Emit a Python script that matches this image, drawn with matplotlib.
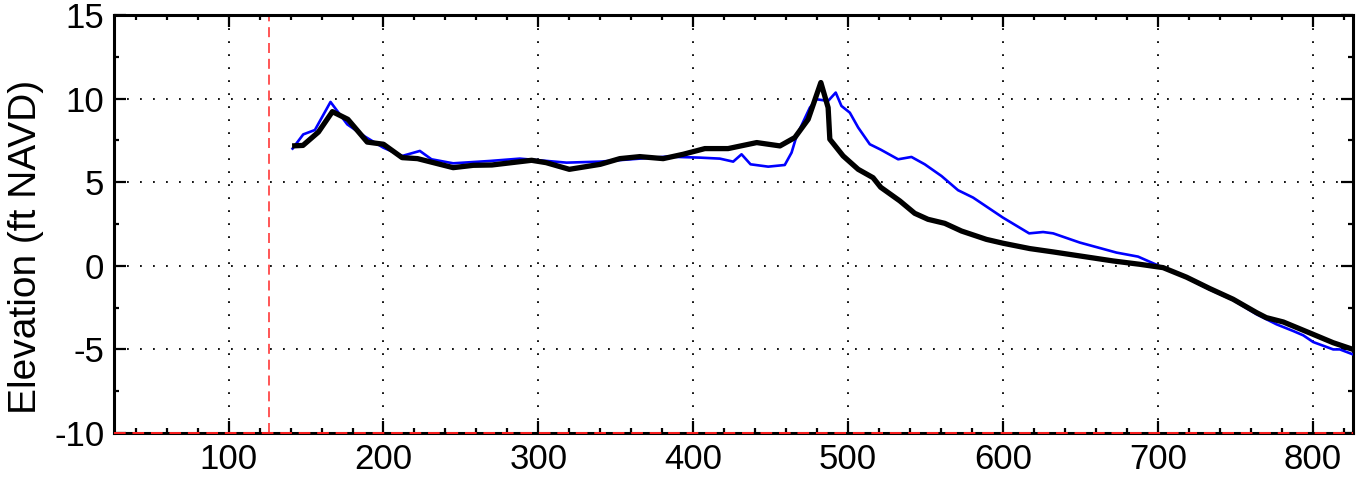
"""
Beach profile comparison plot
"""

import matplotlib
matplotlib.use("Agg")
import matplotlib.pyplot as plt
from matplotlib.ticker import MultipleLocator

plt.rcParams["axes.unicode_minus"] = False

# profile 1 (thin blue)
blue_x = [141.3, 148.2, 155.7, 165.8, 176.6, 188, 199.8, 212.1, 223.5, 231, 245,
          268.7, 288, 318.2, 339.7, 382.8, 404.3, 417.2, 425.8, 431.2, 437, 448.4,
          459.1, 463.5, 466.7, 475.3, 479.6, 487.1, 492, 495.7, 501.1, 506.5, 514,
          521, 532.3, 540.9, 549.5, 560.3, 571, 580.7, 600, 616.9, 625.9, 632.4,
          649.6, 673.3, 687.2, 703.4, 718.5, 733.5, 748.6, 763.7, 776.6, 787.4,
          793.9, 800.3, 813.2, 817.5, 826]
blue_z = [7.01, 7.86, 8.12, 9.8, 8.46, 7.73, 7.07, 6.57, 6.87, 6.37, 6.13,
          6.27, 6.41, 6.17, 6.23, 6.53, 6.47, 6.41, 6.23, 6.67, 6.07, 5.93,
          6.03, 6.77, 7.76, 9.46, 9.96, 9.86, 10.36, 9.56, 9.16, 8.27, 7.27,
          6.95, 6.37, 6.51, 6.07, 5.37, 4.52, 4.08, 2.88, 1.94, 2.02, 1.94,
          1.39, 0.79, 0.55, -0.11, -0.72, -1.42, -2.05, -2.9, -3.5, -3.9,
          -4.16, -4.56, -5.0, -5.0, -5.3]

# profile 2 (thick black)
black_x = [141, 148, 158, 167, 177, 189.5, 200, 212, 222, 245, 258, 270, 295.6,
           305, 320, 340, 352.6, 365.5, 380.6, 393.5, 407.5, 422.5, 441, 456,
           465.6, 474.2, 482.4, 487.1, 488.2, 496.8, 506.5, 516.1, 521, 533.4,
           543, 551.6, 562.4, 573.2, 589.3, 600, 617.3, 632.4, 649.6, 671.1,
           688.3, 703.4, 718.5, 733.5, 748.6, 763.7, 770, 781, 800.3, 813.2, 826]
black_z = [7.17, 7.2, 8.0, 9.22, 8.76, 7.4, 7.27, 6.47, 6.41, 5.87, 6.01, 6.03, 6.31,
           6.17, 5.77, 6.07, 6.41, 6.53, 6.41, 6.67, 7.01, 7.01, 7.37, 7.17,
           7.67, 8.76, 10.96, 9.46, 7.57, 6.57, 5.77, 5.27, 4.7, 3.88,
           3.14, 2.78, 2.54, 2.08, 1.58, 1.35, 1.03, 0.83, 0.59, 0.29,
           0.09, -0.11, -0.68, -1.36, -2.0, -2.8, -3.1, -3.36, -4.1, -4.6, -5.0]

ref_x = 126      # red dashed vertical marker
ref_z = -10      # red dashed horizontal marker
XLIM = (26, 826)
YLIM = (-10, 15)

fig = plt.figure(figsize=(13.64, 4.84), dpi=100)
ax = fig.add_axes([114 / 1364, 51 / 484, 1239 / 1364, 418 / 484])

ax.plot(blue_x, blue_z, color="#0000ff", lw=1.9, zorder=3)
ax.plot(black_x, black_z, color="black", lw=3.8, zorder=4,
        solid_joinstyle="round", solid_capstyle="butt")
ax.axvline(ref_x, color="#ff3838", lw=1.2, ls=(0, (6, 3.5)), zorder=2)
ax.axhline(ref_z, color="#ff2020", lw=1.4, ls=(0, (6, 3.5)), zorder=6, clip_on=False)

ax.set_xlim(*XLIM)
ax.set_ylim(*YLIM)
ax.xaxis.set_major_locator(MultipleLocator(100))
ax.xaxis.set_minor_locator(MultipleLocator(20))
ax.yaxis.set_major_locator(MultipleLocator(5))
ax.yaxis.set_minor_locator(MultipleLocator(2.5))

ax.grid(True, which="major", color="black", lw=1.3, ls=(0, (1, 6.2)))
ax.tick_params(which="both", direction="in", top=True, right=True, width=1.6)
ax.tick_params(which="major", length=8.5, pad=7)
ax.tick_params(which="minor", length=3.6)
for s in ax.spines.values():
    s.set_linewidth(2.2)

tick_fam = ["Liberation Sans Narrow", "Liberation Sans", "DejaVu Sans"]
for lab in ax.get_xticklabels() + ax.get_yticklabels():
    lab.set_family(tick_fam)
    lab.set_fontsize(25)

fig.text(26.5 / 1364, 1 - 247 / 484, "Elevation (ft NAVD)", rotation=90,
         ha="center", va="center", fontsize=28,
         family=["Liberation Sans", "DejaVu Sans"])

fig.savefig("out.png", dpi=100)
